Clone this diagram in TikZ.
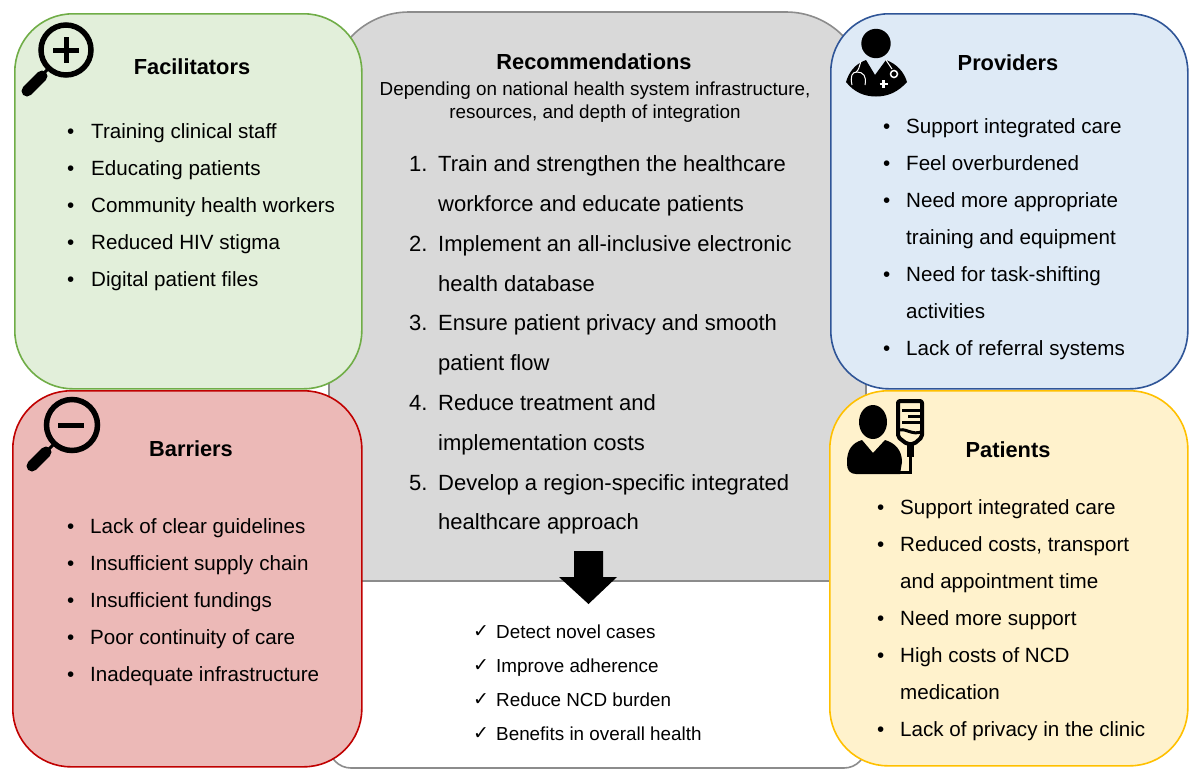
\documentclass[tikz,border=0pt]{standalone}
\usepackage{fontspec}
\setmainfont{Liberation Sans}
\newfontfamily\symfont{DejaVu Sans}
\definecolor{greenfill}{HTML}{E2EFDA}
\definecolor{greenline}{HTML}{70AD47}
\definecolor{redfill}{HTML}{ECB9B7}
\definecolor{redline}{HTML}{C00000}
\definecolor{bluefill}{HTML}{DEEAF6}
\definecolor{blueline}{HTML}{2F5597}
\definecolor{yellowfill}{HTML}{FFF2CC}
\definecolor{yellowline}{HTML}{FFC000}
\definecolor{greyfill}{HTML}{D9D9D9}
\definecolor{greyline}{HTML}{8C8C8C}
\tikzset{
	card/.style = {draw, line width=1.6pt, rounded corners=58pt, inner sep=0pt, anchor=north west},
	heading/.style = {font=\fontsize{21.8}{24}\selectfont\bfseries, anchor=base},
	entry/.style = {font=\fontsize{20.6}{24}\selectfont, anchor=base west, inner sep=0pt},
	numbered/.style = {font=\fontsize{22}{24}\selectfont, anchor=base west, inner sep=0pt},
	small/.style = {font=\fontsize{18.85}{23}\selectfont, anchor=base west, inner sep=0pt},
	icon/.style = {line cap=round, line join=round}
}
\begin{document}
\begin{tikzpicture}[x=1pt, y=-1pt]
	\useasboundingbox (0,0) rectangle (1200,780);
	% centre panel
	\path[fill=white, draw=greyline, line width=1.6pt, rounded corners=22pt] (329,520) -- (329,768) -- (866,768) -- (866,520);
	\path[fill=greyfill, draw=greyline, line width=1.6pt] (329,581) [rounded corners=80pt] -- (329,12) -- (866,12) [sharp corners] -- (866,581) -- cycle;
	% corner panels
	\node[card, fill=greenfill, draw=greenline, minimum width=347pt, minimum height=375pt] (facil) at (14,13) {};
	\node[card, fill=bluefill, draw=blueline, minimum width=357pt, minimum height=375pt] (prov) at (830,13) {};
	\node[card, fill=redfill, draw=redline, minimum width=349pt, minimum height=376pt] (barr) at (12,390) {};
	\node[card, fill=yellowfill, draw=yellowline, minimum width=358pt, minimum height=375pt] (pat) at (829,390) {};
	% headings
	\node[heading] (facilhead) at (192,74) {Facilitators};
	\node[heading] (barrhead) at (191,456) {Barriers};
	\node[heading] (provhead) at (1008,70) {Providers};
	\node[heading] (pathead) at (1008,457) {Patients};
	\node[heading] (rechead) at (594,69) {Recommendations};
	\node[small, anchor=base] (recsub1) at (595,95) {Depending on national health system infrastructure,};
	\node[small, anchor=base] (recsub2) at (595,118) {resources, and depth of integration};
	% facilitators
	\foreach \n/\y/\t in {1/131/Training clinical staff, 2/168/Educating patients, 3/205/Community health workers, 4/242/Reduced HIV stigma, 5/279/Digital patient files} {
		\node[entry] (f\n) at (91,\y+7) {\t};
		\node[entry] (fb\n) at (67,\y+7) {•};
	}
	% barriers
	\foreach \n/\y/\t in {1/526/Lack of clear guidelines, 2/563/Insufficient supply chain, 3/600/Insufficient fundings, 4/637/Poor continuity of care, 5/674/Inadequate infrastructure} {
		\node[entry] (b\n) at (90,\y+7) {\t};
		\node[entry] (bb\n) at (67,\y+7) {•};
	}
	% providers
	\foreach \n/\y/\t in {1/126/Support integrated care, 2/163/Feel overburdened, 3/200/Need more appropriate, 4/237/training and equipment, 5/274/Need for task-shifting, 6/311/activities, 7/348/Lack of referral systems}
		\node[entry] (p\n) at (906,\y+7) {\t};
	\foreach \n/\y in {1/126, 2/163, 3/200, 4/274, 5/348}
		\node[entry] (pb\n) at (883,\y+7) {•};
	% patients
	\foreach \n/\y/\t in {1/507/Support integrated care, 2/544/{Reduced costs, transport}, 3/581/and appointment time, 4/618/Need more support, 5/655/High costs of NCD, 6/692/medication, 7/729/Lack of privacy in the clinic}
		\node[entry] (q\n) at (900,\y+7) {\t};
	\foreach \n/\y in {1/507, 2/544, 3/618, 4/655, 5/729}
		\node[entry] (qb\n) at (877,\y+7) {•};
	% recommendations
	\foreach \n/\y/\t in {1/164/Train and strengthen the healthcare, 2/204/workforce and educate patients, 3/244/Implement an all-inclusive electronic, 4/284/health database, 5/323/Ensure patient privacy and smooth, 6/363/patient flow, 7/403/Reduce treatment and, 8/443/implementation costs, 9/483/Develop a region-specific integrated, 10/522/healthcare approach}
		\node[numbered] (r\n) at (438,\y+7) {\t};
	\foreach \n/\y in {1/164, 2/244, 3/323, 4/403, 5/483}
		\node[numbered] (rn\n) at (409,\y+7) {\n.};
	% outcomes
	\foreach \n/\y/\t in {1/632/Detect novel cases, 2/666/Improve adherence, 3/700/Reduce NCD burden, 4/734/Benefits in overall health} {
		\node[small] (o\n) at (496,\y+6) {\t};
		\node[small, font=\fontsize{19}{20}\symfont] (ob\n) at (473,\y+5) {✓};
	}
	% block arrow
	\fill (574,551) -- (603,551) -- (603,577) -- (617,577) -- (588.5,604) -- (559,577) -- (574,577) -- cycle;
	% magnifier plus
	\draw[line width=5.5pt] (66,50) circle (25);
	\draw[line width=5pt] (53,50) -- (79,50) (66,37) -- (66,63);
	\draw[line width=3pt] (49,68) -- (42,75);
	\draw[icon, line width=11pt] (42,76) -- (27,91);
	% magnifier minus
	\draw[line width=5.5pt] (72,425) circle (25.5);
	\draw[line width=5pt] (58,425) -- (84,425);
	\draw[line width=3pt] (55,443) -- (48,450);
	\draw[icon, line width=11pt] (46,452) -- (32,466);
	% doctor
	\fill (876,43.5) circle (14.7);
	\fill (846,82) .. controls (849,72) and (855,64) .. (866,60) -- (875,75) -- (886,60) .. controls (897,64) and (904,72) .. (907,82) .. controls (898,92) and (888,96.5) .. (876,96.5) .. controls (864,96.5) and (854,92) .. (846,82) -- cycle;
	\draw[white, line width=1pt] (861,61) .. controls (859,67) and (859,70) .. (856,72);
	\draw[white, line width=1pt] (852,85) .. controls (850,76) and (852,72) .. (857,72) .. controls (863,72) and (867,76) .. (865,85);
	\draw[white, line width=1pt] (886,60) -- (892,69);
	\draw[white, line width=1.5pt] (894,74) circle (3.5);
	\draw[white, line width=2.5pt] (883.5,80) -- (883.5,88) (879.5,84) -- (887.5,84);
	% patient
	\fill (873,422) ellipse (14 and 17);
	\fill (847,462) .. controls (847,450) and (852,443) .. (862,440) -- (873,453) -- (885,440) .. controls (895,443) and (902,450) .. (902,462) -- (900,474) -- (856,474) .. controls (850,474) and (847,470) .. (847,464) -- cycle;
	\draw[icon, line width=4pt, rounded corners=2pt] (898,401) -- (922,401) -- (922,437) -- (914,444) -- (907,444) -- (898,437) -- cycle;
	\draw[line width=3pt] (902,410) -- (921,410) (908,416) -- (921,416) (902,422) -- (921,422);
	\draw[line width=3pt] (897,431) .. controls (905,426) and (912,437) .. (923,431);
	\draw[line width=7pt] (910.5,444) -- (910.5,457);
	\draw[line width=3pt] (910.5,457) -- (910.5,472.5) -- (900,472.5);
\end{tikzpicture}
\end{document}
